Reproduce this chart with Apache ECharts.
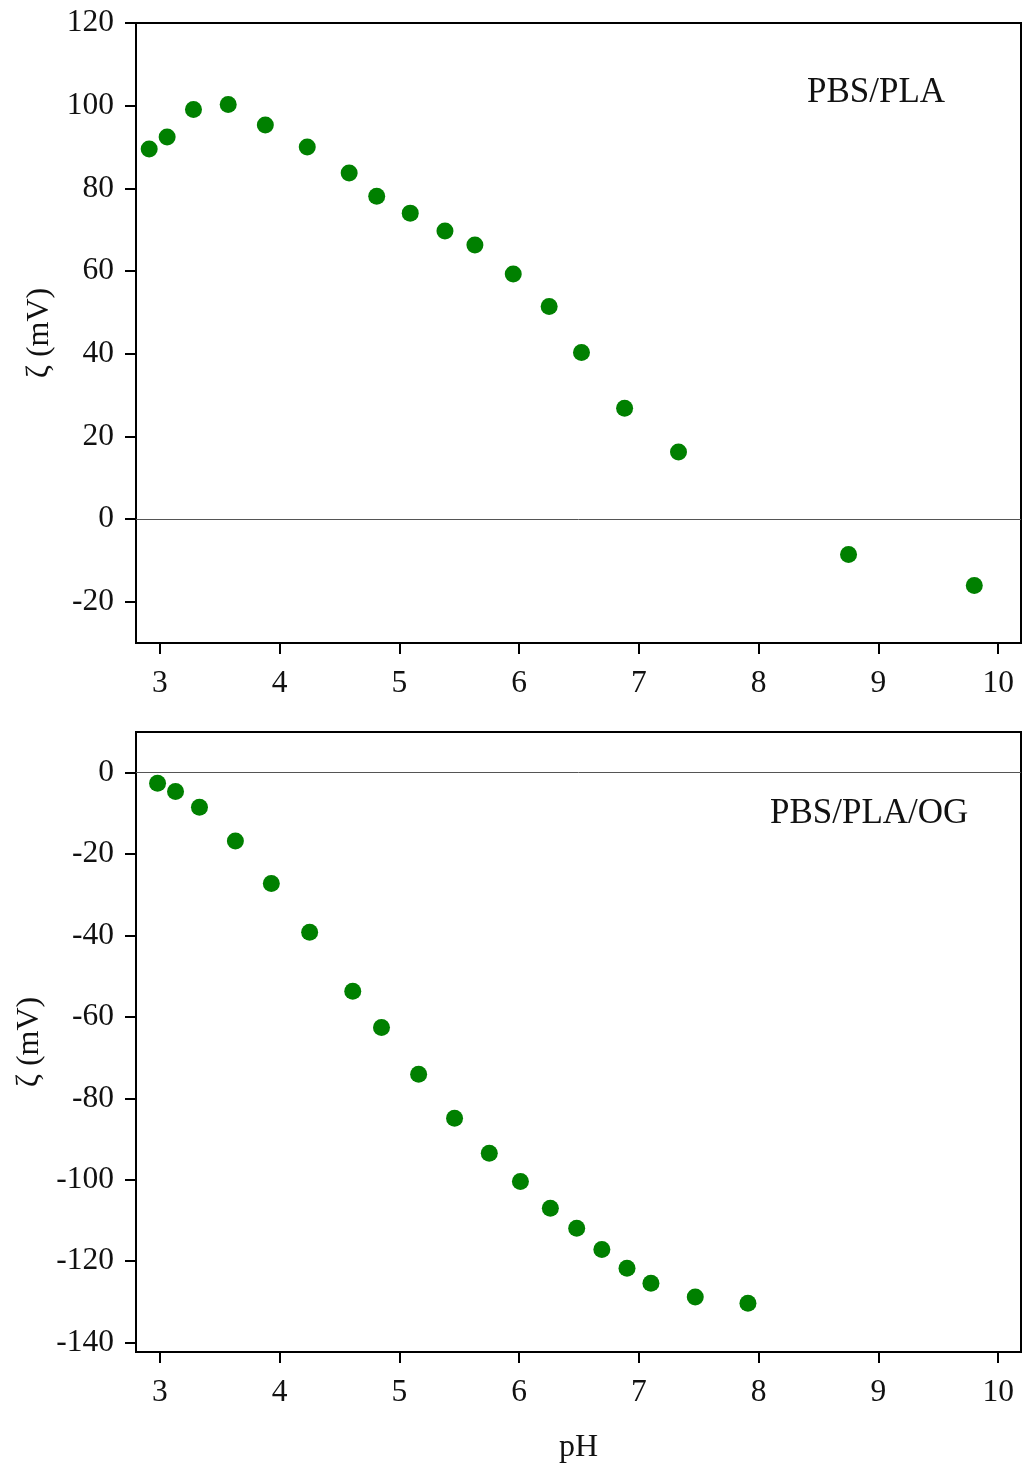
<!DOCTYPE html>
<html>
<head>
<meta charset="utf-8">
<title>Zeta potential vs pH</title>
<script src="https://cdn.jsdelivr.net/npm/echarts@6/dist/echarts.min.js"></script>
<style>
  html, body { margin: 0; padding: 0; background: #ffffff; }
  #chart { width: 1023px; height: 1470px; }
</style>
</head>
<body>
<div id="chart"></div>
<script>
// PBS/PLA membrane: pH and zeta potential (mV)
const pHTop   = [2.91, 3.06, 3.28, 3.57, 3.88, 4.23, 4.58, 4.81, 5.09, 5.38, 5.63, 5.95, 6.25, 6.52, 6.88, 7.33, 8.75, 9.80];
const zetaTop = [89.5, 92.4, 99.1, 100.3, 95.3, 90.0, 83.7, 78.1, 74.0, 69.7, 66.3, 59.3, 51.4, 40.3, 26.8, 16.2, -8.6, -16.1];

// PBS/PLA/OG membrane: pH and zeta potential (mV)
const pHBottom   = [2.98, 3.13, 3.33, 3.63, 3.93, 4.25, 4.61, 4.85, 5.16, 5.46, 5.75, 6.01, 6.26, 6.48, 6.69, 6.90, 7.10, 7.47, 7.91];
const zetaBottom = [-2.6, -4.6, -8.5, -16.8, -27.2, -39.2, -53.7, -62.6, -74.1, -84.9, -93.5, -100.4, -107.0, -111.9, -117.1, -121.7, -125.4, -128.8, -130.3];

// Tick labels
const pHTicks         = [3, 4, 5, 6, 7, 8, 9, 10];
const zetaTicksTop    = [-20, 0, 20, 40, 60, 80, 100, 120];
const zetaTicksBottom = [-140, -120, -100, -80, -60, -40, -20, 0];

const sampleNames = ['PBS/PLA', 'PBS/PLA/OG'];

const FONT = '"Liberation Serif", "Times New Roman", serif';
const INK = '#111111';
const GREEN = '#008000';

function xAxisDef(gridIndex, withName) {
  return {
    type: 'value', gridIndex: gridIndex,
    min: 2.8, max: 10.19,
    name: withName ? 'pH' : '',
    nameLocation: 'middle', nameGap: 80,
    nameTextStyle: { fontFamily: FONT, fontSize: 32, color: INK },
    axisLine: { show: true, onZero: false, lineStyle: { color: '#000', width: 2 } },
    axisTick: { show: true, inside: false, length: 11, customValues: pHTicks, lineStyle: { color: '#000', width: 2 } },
    axisLabel: { show: true, customValues: pHTicks, margin: 25, fontFamily: FONT, fontSize: 31.5, color: INK },
    splitLine: { show: false }
  };
}

function yAxisDef(gridIndex, min, max, ticks, gap) {
  return {
    type: 'value', gridIndex: gridIndex,
    min: min, max: max,
    name: 'ζ (mV)',
    nameLocation: 'middle', nameGap: gap, nameRotate: 90,
    nameTextStyle: { fontFamily: FONT, fontSize: 32, color: INK },
    axisLine: { show: true, onZero: false, lineStyle: { color: '#000', width: 2 } },
    axisTick: { show: true, inside: false, length: 11, customValues: ticks, lineStyle: { color: '#000', width: 2 } },
    axisLabel: { show: true, customValues: ticks, margin: 22, fontFamily: FONT, fontSize: 31.5, color: INK },
    splitLine: { show: false }
  };
}

function toPairs(xs, ys) {
  return xs.map((x, i) => [x, ys[i]]);
}

const zeroLine = {
  silent: true,
  symbol: ['none', 'none'],
  label: { show: false },
  lineStyle: { color: '#555555', width: 1, type: 'solid' },
  data: [{ yAxis: 0 }]
};

const chart = echarts.init(document.getElementById('chart'), null, { renderer: 'canvas' });

chart.setOption({
  backgroundColor: '#ffffff',
  animation: false,
  grid: [
    { left: 136, top: 23, width: 885, height: 620, show: true, borderColor: '#000', borderWidth: 2, backgroundColor: 'transparent' },
    { left: 136, top: 732, width: 885, height: 620, show: true, borderColor: '#000', borderWidth: 2, backgroundColor: 'transparent' }
  ],
  xAxis: [xAxisDef(0, false), xAxisDef(1, true)],
  yAxis: [
    yAxisDef(0, -30, 120, zetaTicksTop, 80),
    yAxisDef(1, -142.3, 10, zetaTicksBottom, 90)
  ],
  graphic: [
    { type: 'text', left: 807, top: 75, style: { text: sampleNames[0], font: '35px ' + FONT, fill: INK } },
    { type: 'text', left: 770, top: 796, style: { text: sampleNames[1], font: '35px ' + FONT, fill: INK } }
  ],
  series: [
    {
      type: 'scatter', xAxisIndex: 0, yAxisIndex: 0,
      symbol: 'circle', symbolSize: 17,
      itemStyle: { color: GREEN, opacity: 1 },
      data: toPairs(pHTop, zetaTop),
      markLine: zeroLine,
      z: 3
    },
    {
      type: 'scatter', xAxisIndex: 1, yAxisIndex: 1,
      symbol: 'circle', symbolSize: 17,
      itemStyle: { color: GREEN, opacity: 1 },
      data: toPairs(pHBottom, zetaBottom),
      markLine: zeroLine,
      z: 3
    }
  ]
});
</script>
</body>
</html>
